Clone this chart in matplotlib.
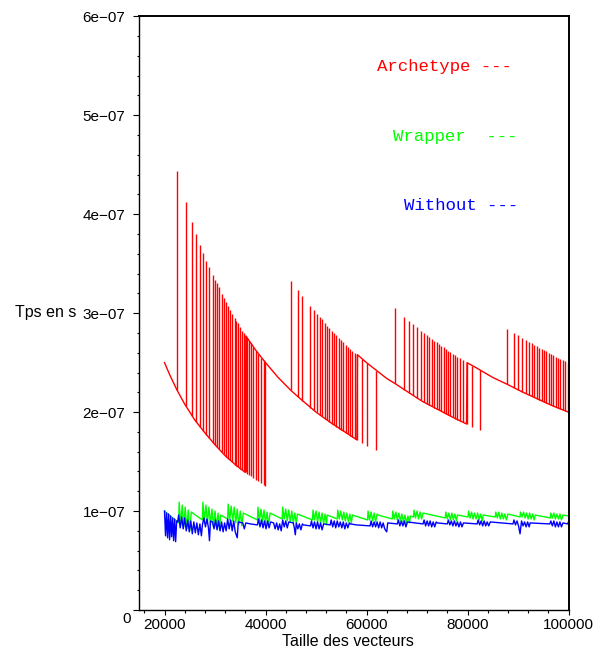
import matplotlib
matplotlib.use("Agg")
import matplotlib.pyplot as plt
import matplotlib.transforms as mtransforms
from matplotlib.ticker import FixedLocator, MultipleLocator, FuncFormatter
import numpy as np

# values in 1e-9 s (ns per element), x = vector size

# --- Archetype (red): base curve + spikes between two levels
red_base_x = [20000, 21000, 22400, 22500, 24000, 26000, 28000, 30000, 32000, 34000, 36000,
              36100, 38000, 40000, 42500, 45000, 47000, 50000, 53000, 56000, 58100,
              58200, 60000, 62000, 64000, 65600, 68000, 71000, 74000, 77000, 79800,
              79900, 82000, 85000, 87900, 91000, 94000, 97000, 100000]
red_base_y = [250, 238, 223, 222, 208, 192, 179, 167, 156, 147, 139,
              277, 263, 250, 235, 222, 213, 200, 189, 179, 172,
              258, 250, 242, 234, 229, 221, 211, 203, 195, 188,
              250, 244, 235, 228, 220, 213, 206, 200]

red_spike_x = [22500, 24300, 25500, 26300, 27100, 27700, 28300, 28800, 29500, 29900,
               30300, 30700, 31300, 31700, 32200, 32600, 33000, 33400, 33900, 34200,
               34500, 35000, 35400, 35700, 36100, 36400, 36800, 37100, 37600, 38100,
               38600, 39200, 39600, 39900,
               45100, 46500, 47300, 48900, 49500, 50100, 50700, 51100, 51700, 52200,
               52600, 53100, 53600, 54000, 54500, 54900, 55400, 55900, 56300, 56800,
               57200, 57700, 58200, 59100, 60100, 61900,
               65600, 67500, 68400, 69200, 70000, 70800, 71400, 72000, 72400, 72900,
               73400, 73900, 74300, 74800, 75300, 75700, 76200, 76600, 77100, 77600,
               78000, 78500, 79100, 79900, 80900, 82400,
               87900, 89200, 90000, 90800, 91500, 92100, 92700, 93200, 93700, 94200,
               94700, 95200, 95600, 96100, 96500, 97000, 97500, 97900, 98400, 98900,
               99400, 99900]
red_spike_lo = [222, 206, 196, 190, 185, 181, 177, 174, 169, 167,
                165, 163, 160, 158, 155, 153, 152, 150, 147, 146,
                145, 143, 141, 140, 139, 137, 136, 135, 133, 131,
                130, 128, 126, 125,
                222, 215, 211, 204, 202, 200, 197, 196, 193, 192,
                190, 188, 187, 185, 183, 182, 181, 179, 178, 176,
                175, 173, 172, 169, 166, 162,
                229, 222, 219, 217, 214, 212, 210, 208, 207, 206,
                204, 203, 202, 201, 199, 198, 197, 196, 195, 193,
                192, 191, 190, 188, 185, 182,
                228, 224, 222, 220, 219, 217, 216, 215, 213, 212,
                211, 210, 209, 208, 207, 206, 205, 204, 203, 202,
                201, 200]
red_spike_hi = [444, 412, 392, 380, 369, 361, 353, 347, 339, 334,
                330, 326, 319, 315, 311, 307, 303, 299, 295, 292,
                290, 286, 282, 280, 277, 275, 272, 270, 266, 262,
                259, 255, 253, 251,
                333, 323, 317, 307, 303, 299, 296, 294, 290, 287,
                285, 282, 280, 278, 275, 273, 271, 268, 266, 264,
                262, 260, 258, 254, 250, 242,
                305, 296, 292, 289, 286, 282, 280, 278, 276, 274,
                272, 271, 269, 267, 266, 264, 262, 261, 259, 258,
                256, 255, 253, 250, 247, 243,
                284, 280, 278, 275, 273, 271, 270, 268, 267, 265,
                264, 263, 262, 260, 259, 258, 256, 255, 254, 253,
                252, 250]

# --- Wrapper (green)
green_x = [20000, 22800,
           22900, 23200, 23500, 23800, 24100, 24400, 24700, 25000, 25300, 27500,
           27600, 27900, 28200, 28500, 28800, 29100, 29400, 29700, 30000, 30300, 30600, 30900, 31100, 32500,
           32600, 32900, 33200, 33500, 33800, 34100, 34400, 34700, 35000, 35300, 35600, 38400,
           38500, 38800, 39100, 39400, 39700, 40000, 40300, 40600, 40900, 43300,
           43400, 43700, 44000, 44300, 44600, 44900, 45200, 45500, 45800, 46100, 46300, 49300,
           49400, 49700, 50000, 50300, 50600, 50900, 51200, 51500, 51800, 52100, 52200, 54200,
           54300, 54600, 54900, 55200, 55500, 55800, 56100, 56400, 56700, 57000, 57200, 60200,
           60300, 60600, 60900, 61200, 61500, 61800, 62100, 62300, 65100,
           65200, 65500, 65800, 66100, 66400, 66700, 67000, 67300, 67600, 67900, 68200, 68500, 68700, 69300,
           69400, 69700, 70000, 70300, 70600, 70900, 71200, 75600,
           75700, 76000, 76300, 76600, 76900, 77200, 77500, 77800, 78000, 80100,
           80200, 80500, 80800, 81100, 81400, 81700, 82000, 82300, 82600, 82900, 83100, 85500,
           85600, 85900, 86200, 86500, 86800, 87100, 87400, 87700, 88000, 90400,
           90500, 90800, 91100, 91400, 91700, 92000, 92300, 92600, 92900, 93200, 93400, 96400,
           96500, 96800, 97100, 97400, 97700, 98000, 98300, 98600, 98900, 100000]
green_y = [100, 88,
           109, 86, 106, 84, 104, 82, 101, 80, 99, 91,
           109, 90, 106, 88, 104, 86, 102, 84, 100, 83, 98, 81, 96, 92,
           107, 91, 105, 90, 104, 88, 102, 86, 100, 85, 98, 91,
           104, 90, 102, 89, 101, 88, 99, 86, 98, 92,
           104, 92, 102, 90, 101, 89, 100, 88, 98, 87, 97, 91,
           101, 91, 100, 89, 99, 88, 98, 87, 97, 86, 96, 92,
           101, 92, 100, 91, 99, 90, 98, 89, 97, 88, 96, 91,
           100, 91, 99, 90, 98, 89, 97, 96, 92,
           100, 92, 99, 91, 98, 90, 97, 89, 96, 88, 95, 88, 95, 94,
           101, 93, 100, 92, 99, 92, 98, 93,
           99, 92, 98, 91, 98, 91, 97, 90, 96, 94,
           100, 93, 99, 92, 98, 92, 98, 91, 97, 90, 96, 94,
           99, 93, 99, 92, 98, 92, 97, 91, 97, 94,
           99, 94, 99, 93, 98, 92, 98, 92, 97, 91, 96, 93,
           98, 93, 98, 92, 97, 92, 97, 91, 96, 95]

# --- Without (blue)
blue_x = [20000, 20200, 20400, 20600, 20800, 21000, 21200, 21400, 21600, 21800, 22000, 22200, 22400, 22600,
          22800, 23100, 23400, 23700, 24000, 24300, 24600, 24900, 25200, 25500, 25800, 26100, 26400, 26700, 27000, 27300, 27500,
          27800, 28100, 28400, 28700, 28900, 29100,
          29500, 29800, 30100, 30400, 30700, 31000, 31300, 31600, 31900, 32200, 32500, 32800, 33100, 33400, 33700, 34000, 34400, 34600,
          35500, 35800, 36100, 37000, 38400,
          38600, 38900, 39200, 39500, 39800, 40100, 40400, 40700, 41000, 41600, 41900, 42200, 42500, 42800, 43100, 43400, 43700, 44000, 44300, 44600,
          45500, 45700, 45900, 46100, 46400, 46700, 47000, 47300, 47500,
          48900, 49100, 49400, 49700, 50000, 50300, 50600, 50900, 51200, 51500,
          52800, 53000, 53300, 53600, 53900, 54200, 54500, 54800, 55100, 55400, 55700, 56000, 56300, 56600, 56800,
          58000, 60700,
          60900, 61200, 61500, 61800, 62100, 62400, 62700, 63000, 63300, 63600, 64000, 64200,
          66100, 66300, 66600, 66900, 67200, 67500, 67800, 68100,
          71200, 71400, 71700, 72000, 72300, 72600, 72900, 73200, 73500, 73800, 74000,
          76000, 76200, 76500, 76800, 77100, 77400, 77700, 78000, 78300, 78600, 78900, 79200,
          81900, 82100, 82400, 82700, 83000, 83300, 83600, 83900, 84200, 84500,
          89000, 89200, 89500, 89800, 90100, 90400, 90700, 91000, 91300, 91600, 91900, 92200, 92400,
          96300, 96500, 96800, 97100, 97400, 97700, 98000, 98300, 98600, 98900,
          99800, 100000]
blue_y = [100, 75, 98, 73, 97, 71, 95, 74, 93, 70, 92, 69, 90, 89,
          96, 83, 94, 82, 93, 80, 91, 79, 90, 77, 89, 78, 88, 76, 87, 75, 86,
          93, 84, 92, 83, 70, 90,
          89, 82, 91, 81, 90, 80, 89, 79, 88, 80, 92, 82, 91, 80, 90, 79, 73, 89,
          88, 82, 88, 87, 86,
          92, 84, 91, 83, 90, 82, 90, 83, 89, 88, 82, 88, 81, 87, 80, 91, 84, 90, 83, 89,
          88, 83, 76, 88, 82, 87, 81, 87, 86,
          85, 90, 83, 89, 82, 89, 82, 88, 81, 87,
          86, 91, 84, 90, 83, 90, 84, 89, 83, 89, 82, 88, 83, 88, 87,
          86, 85,
          90, 84, 89, 84, 89, 83, 89, 83, 88, 82, 79, 88,
          87, 91, 85, 90, 85, 90, 84, 89,
          87, 91, 85, 90, 85, 90, 84, 89, 84, 89, 88,
          87, 91, 86, 90, 85, 90, 85, 89, 84, 89, 84, 88,
          87, 91, 86, 90, 85, 90, 85, 89, 85, 89,
          87, 91, 86, 90, 85, 77, 90, 85, 89, 84, 89, 84, 88,
          87, 90, 85, 90, 84, 89, 84, 89, 84, 88,
          87, 89]

labels = ["Archetype ---", "Wrapper  ---", "Without ---"]
colors = ["#ff0000", "#00ff00", "#0000ff"]
ns = 1e-9

plt.rcParams['font.family'] = ['Liberation Sans', 'DejaVu Sans']

fig = plt.figure(figsize=(5.97, 6.52), dpi=100)
ax = fig.add_axes([0.2333, 0.0644, 0.7190, 0.9106])

ax.plot(red_base_x, np.array(red_base_y) * ns, color=colors[0], lw=1.0)
ax.vlines(red_spike_x, np.array(red_spike_lo) * ns, np.array(red_spike_hi) * ns,
          color=colors[0], lw=1.0)
ax.plot(green_x, np.array(green_y) * ns, color=colors[1], lw=1.0)
ax.plot(blue_x, np.array(blue_y) * ns, color=colors[2], lw=1.0)

ax.set_xlim(15000, 100000)
ax.set_ylim(0, 6e-7)

ax.xaxis.set_major_locator(FixedLocator([20000, 40000, 60000, 80000, 100000]))
ax.xaxis.set_minor_locator(MultipleLocator(4000))
ax.yaxis.set_major_locator(FixedLocator(np.linspace(0, 6e-7, 7)))
ax.yaxis.set_minor_locator(FixedLocator(np.linspace(0, 6e-7, 31)))


def yfmt(v, pos):
    if abs(v) < 1e-12:
        return "0"
    return f"{v:.0e}".replace("-", "\u2212")


ax.yaxis.set_major_formatter(FuncFormatter(yfmt))
ax.tick_params(which='major', direction='out', length=4.5, width=0.8, labelsize=11, pad=5.5)
ax.tick_params(which='minor', direction='out', length=1.8, width=0.8)
ax.tick_params(axis='x', which='major', length=3.5, pad=2.5)

for s in ['left', 'bottom']:
    ax.spines[s].set_linewidth(1.0)
for s in ['right', 'top']:
    ax.spines[s].set_linewidth(1.4)

# the "0" label sits a bit lower in the original
fig.canvas.draw()
lab0 = ax.get_yticklabels()[0]
lab0.set_transform(lab0.get_transform() + mtransforms.ScaledTranslation(5 / 100, -7 / 100, fig.dpi_scale_trans))

fig.text(348 / 597, 1 - 641 / 652, "Taille des vecteurs", ha='center', va='center', fontsize=11.5)
fig.text(15 / 597, 1 - 313 / 652, "Tps en s", ha='left', va='center', fontsize=11.5)

leg_pos = [(377, 67), (393, 137), (404, 206)]
for (px, py), lab, c in zip(leg_pos, labels, colors):
    fig.text(px / 597, 1 - py / 652, lab, color=c, ha='left', va='center',
             fontsize=12.5, family=['Liberation Mono', 'DejaVu Sans Mono'])

fig.savefig("out.png", dpi=100)
